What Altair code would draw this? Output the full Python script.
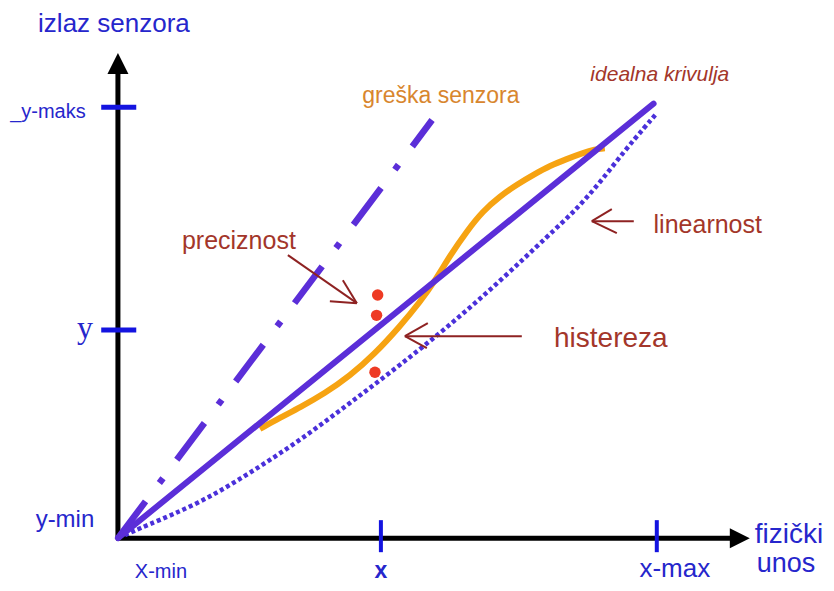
import altair as alt
import pandas as pd

# ---------------- data (chart units: x-min=0, x-max=100, y-min=0, y-maks=100) ---------------
ideal_x = [0.0, 99.4]
ideal_y = [0.0, 100.8]

error_x = [0.0, 58.3]          # dash-dot line ("greška senzora")
error_y = [0.0, 97.0]

lin_x = [1.3, 4.6, 15.2, 24.5, 33.8, 43.0, 52.3, 61.6, 70.9, 80.1, 84.8, 89.4, 94.1, 97.8, 100.0]
lin_y = [0.7, 2.6, 8.1, 15.1, 22.7, 31.3, 40.1, 49.4, 59.6, 70.5, 75.9, 82.4, 90.0, 95.4, 98.6]

hyst_x = [26.35, 30.06, 33.77, 38.40, 43.04, 47.68, 52.32, 56.03, 58.81, 61.60,
          64.75, 67.72, 70.87, 74.03, 77.37, 80.15, 83.30, 86.27, 88.50, 90.35]
hyst_y = [25.33, 27.93, 30.30, 33.61, 37.62, 42.78, 49.12, 54.73, 59.64, 65.49,
          71.23, 75.87, 79.29, 82.03, 84.49, 86.38, 87.96, 89.35, 90.21, 90.47]

prec_x = [48.2, 48.0, 47.7]
prec_y = [56.4, 51.7, 38.5]

x_ticks = [48.8, 100.0]
y_ticks = [48.3, 100.0]

x_axis_end = 114.5
y_axis_end = 107.7

# annotation arrows: (x1, y1, x2, y2)
arrow_x1 = [31.54, 39.33, 41.74, 74.95, 57.51, 57.33, 95.73, 91.65, 92.58]
arrow_y1 = [65.66, 54.99, 59.86, 46.87, 49.88, 44.08, 73.55, 76.33, 70.77]
arrow_x2 = [44.34, 44.34, 44.34, 53.25, 53.25, 53.25, 87.94, 87.94, 87.94]
arrow_y2 = [54.52, 54.52, 54.52, 46.87, 46.87, 46.87, 73.55, 73.55, 73.55]

label_text = ["izlaz senzora", "_y-maks", "y", "y-min", "X-min", "x", "x-max", "fizički", "unos",
              "idealna krivulja", "greška senzora", "preciznost", "linearnost", "histereza"]
label_x = [-0.74, -12.99, -6.12, -9.83, 7.98, 48.79, 103.34, 118.18, 118.55,
           100.56, 59.93, 22.45, 109.46, 91.47]
label_y = [119.26, 98.84, 48.72, 4.18, -7.89, -7.7, -7.1, 0.70, -6.1,
           107.42, 102.55, 68.91, 72.62, 46.17]

# ---------------- styling ---------------
BLUE_TXT = "#2626cc"
BLUE_TICK = "#1414e0"
PURPLE = "#5b2ed8"
PURPLE_DOT = "#4a30da"
ORANGE = "#f6a312"
RED_TXT = "#a3362a"
ARROW = "#8e2222"

label_style = [
    dict(size=26, color=BLUE_TXT),
    dict(size=20, color=BLUE_TXT),
    dict(size=32, color=BLUE_TXT, font="Liberation Serif"),
    dict(size=24, color=BLUE_TXT),
    dict(size=20, color=BLUE_TXT),
    dict(size=23, color=BLUE_TXT, fontWeight="bold"),
    dict(size=26, color=BLUE_TXT),
    dict(size=28, color=BLUE_TXT, align="left"),
    dict(size=27, color=BLUE_TXT, align="left"),
    dict(size=21, color=RED_TXT, fontStyle="italic"),
    dict(size=23, color="#d8862e"),
    dict(size=25, color=RED_TXT),
    dict(size=25, color=RED_TXT),
    dict(size=28, color=RED_TXT),
]

xs = alt.Scale(domain=[-20.4, 131.4], nice=False, zero=False)
ys = alt.Scale(domain=[-10.4, 123.0], nice=False, zero=False)


def X(f="x"):
    return alt.X(f"{f}:Q", scale=xs, axis=None)


def Y(f="y"):
    return alt.Y(f"{f}:Q", scale=ys, axis=None)


def seg_chart(df, **mark):
    return alt.Chart(df).mark_rule(**mark).encode(x=X("x"), y=Y("y"), x2="x2:Q", y2="y2:Q")


layers = []

# axes
axes_df = pd.DataFrame({"x": [-0.3, 0.0], "y": [0.0, 0.0], "x2": [x_axis_end, 0.0], "y2": [0.0, y_axis_end]})
layers.append(seg_chart(axes_df, color="black", strokeWidth=5))

# arrowheads of the axes
layers.append(alt.Chart(pd.DataFrame({"x": [0.0], "y": [110.1]})).mark_point(
    shape="M0,-1L1,1L-1,1Z", size=441, filled=True, color="black", opacity=1).encode(x=X(), y=Y()))
layers.append(alt.Chart(pd.DataFrame({"x": [115.4], "y": [0.0]})).mark_point(
    shape="M1,0L-1,-1L-1,1Z", size=400, filled=True, color="black", opacity=1).encode(x=X(), y=Y()))

# ticks
xt_df = pd.DataFrame({"x": x_ticks, "y": [-3.25] * len(x_ticks), "x2": x_ticks, "y2": [4.18] * len(x_ticks)})
yt_df = pd.DataFrame({"x": [-3.1] * len(y_ticks), "y": y_ticks, "x2": [3.4] * len(y_ticks), "y2": y_ticks})
layers.append(seg_chart(xt_df, color=BLUE_TICK, strokeWidth=4))
layers.append(seg_chart(yt_df, color=BLUE_TICK, strokeWidth=5))

# dotted (linearity) curve
lin_df = pd.DataFrame({"x": lin_x, "y": lin_y})
layers.append(alt.Chart(lin_df).mark_line(color=PURPLE_DOT, strokeWidth=4.5, strokeDash=[4, 3],
                                          interpolate="basis").encode(x=X(), y=Y()))

# hysteresis (orange) curve
hyst_df = pd.DataFrame({"x": hyst_x, "y": hyst_y})
layers.append(alt.Chart(hyst_df).mark_line(color=ORANGE, strokeWidth=6,
                                           interpolate="basis").encode(x=X(), y=Y()))

# sensor-error dash-dot line
err_df = pd.DataFrame({"x": [error_x[0]], "y": [error_y[0]], "x2": [error_x[1]], "y2": [error_y[1]]})
layers.append(seg_chart(err_df, color=PURPLE, strokeWidth=6.5, strokeDash=[46, 23, 6, 23], strokeCap="butt"))

# ideal line
ideal_df = pd.DataFrame({"x": [ideal_x[0]], "y": [ideal_y[0]], "x2": [ideal_x[1]], "y2": [ideal_y[1]]})
layers.append(seg_chart(ideal_df, color=PURPLE, strokeWidth=6, strokeCap="round"))

# precision dots
prec_df = pd.DataFrame({"x": prec_x, "y": prec_y})
layers.append(alt.Chart(prec_df).mark_circle(color="#ee3b24", size=130, opacity=1).encode(x=X(), y=Y()))

# annotation arrows
arr_df = pd.DataFrame({"x": arrow_x1, "y": arrow_y1, "x2": arrow_x2, "y2": arrow_y2})
layers.append(seg_chart(arr_df, color=ARROW, strokeWidth=2))

# labels
for t, lx, ly, st in zip(label_text, label_x, label_y, label_style):
    st = dict(st)
    props = dict(font=st.pop("font", "Liberation Sans"), align=st.pop("align", "center"),
                 baseline="middle", fontSize=st.pop("size"), color=st.pop("color"))
    props.update(st)
    df = pd.DataFrame({"x": [lx], "y": [ly], "t": [t]})
    layers.append(alt.Chart(df).mark_text(**props).encode(x=X(), y=Y(), text="t:N"))

chart = alt.layer(*layers).properties(
    width=818, height=575, padding=0, autosize=alt.AutoSizeParams(type="none"),
    background="white"
).configure_view(stroke=None)

chart.save("out.html", embed_options={"renderer": "svg", "actions": False})
